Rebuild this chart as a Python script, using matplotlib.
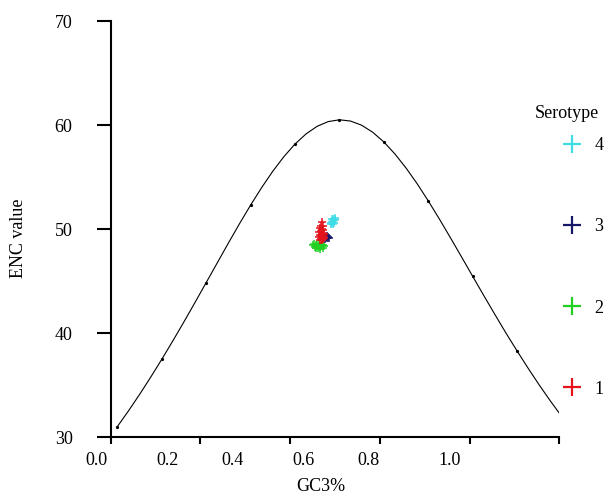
import numpy as np
import matplotlib
matplotlib.use("Agg")
import matplotlib.pyplot as plt
import matplotlib.transforms as mtransforms
from matplotlib.lines import Line2D

plt.rcParams['font.family'] = ['Liberation Serif', 'DejaVu Serif']

# Expected ENC curve (GC3 from 0 to 1 in steps of 0.025)
curve_gc3 = np.linspace(0.0, 1.0, 41)
curve_enc = [31.00, 32.51, 34.09, 35.75, 37.47, 39.25, 41.08, 42.95, 44.85, 46.75,
             48.65, 50.51, 52.30, 53.99, 55.56, 56.96, 58.17, 59.15, 59.88, 60.33,
             60.50, 60.38, 59.98, 59.30, 58.37, 57.21, 55.86, 54.35, 52.70, 50.96,
             49.15, 47.31, 45.45, 43.60, 41.78, 39.99, 38.27, 36.60, 34.99, 33.46,
             32.00]

# Serotype points
s1_gc3 = [0.460, 0.458, 0.462, 0.456, 0.461, 0.464, 0.459, 0.455, 0.463, 0.460, 0.466,
          0.457, 0.462, 0.459, 0.465, 0.455, 0.461, 0.458, 0.463, 0.460, 0.456, 0.466]
s1_enc = [50.67, 50.30, 50.25, 50.05, 50.00, 49.90, 49.80, 49.70, 49.65, 49.55, 49.50,
          49.45, 49.40, 49.30, 49.25, 49.20, 49.15, 49.05, 49.00, 48.95, 48.90, 49.10]
s2_gc3 = [0.440, 0.444, 0.448, 0.451, 0.453, 0.455, 0.457, 0.459, 0.462, 0.464, 0.447,
          0.450, 0.456, 0.460, 0.443, 0.466]
s2_enc = [48.45, 48.30, 48.50, 48.20, 48.40, 48.55, 48.25, 48.35, 48.50, 48.20, 48.15,
          48.60, 48.10, 48.45, 48.55, 48.35]
s3_gc3 = [0.470, 0.473, 0.475, 0.477, 0.472, 0.468]
s3_enc = [49.20, 49.10, 49.25, 49.15, 49.30, 49.05]
s4_gc3 = [0.480, 0.483, 0.486, 0.484, 0.488, 0.490, 0.482, 0.487, 0.489, 0.485]
s4_enc = [50.55, 50.70, 50.80, 50.95, 51.00, 50.85, 50.45, 50.60, 51.10, 50.50]

serotypes = ['1', '2', '3', '4']
colors = {'1': '#e3141c', '2': '#22d022', '3': '#16166b', '4': '#40dce6'}

x_tick_labels = ['0.0', '0.2', '0.4', '0.6', '0.8', '1.0']
x_label_pos = [-0.046, 0.114, 0.260, 0.418, 0.566, 0.749]
y_ticks = [30, 40, 50, 60, 70]

W, H = 611, 498
fig = plt.figure(figsize=(W / 100, H / 100), dpi=100)
ax = fig.add_axes([110.7 / W, 1 - 437 / H, 448.6 / W, 416 / H])

xlim = (-0.015, 0.995)
ax.set_xlim(*xlim)
ax.set_ylim(30, 70)

ax.plot(curve_gc3, curve_enc, color='black', lw=0.8, marker='o', markersize=1.3,
        markevery=4, zorder=2)

data = {'1': (s1_gc3, s1_enc), '2': (s2_gc3, s2_enc),
        '3': (s3_gc3, s3_enc), '4': (s4_gc3, s4_enc)}
for key in ['4', '2', '3', '1']:
    gx, gy = data[key]
    ax.scatter(gx, gy, marker='+', s=30, linewidths=1.1, color=colors[key], zorder=3)

for side in ['top', 'right']:
    ax.spines[side].set_visible(False)
for side in ['left', 'bottom']:
    ax.spines[side].set_linewidth(1.5)

ax.set_yticks(y_ticks)
ax.tick_params(axis='y', direction='out', length=10, width=1.5, pad=17.5, labelsize=13)
ax.set_xticks(np.linspace(xlim[0], xlim[1], 6))
ax.set_xticklabels([])
ax.tick_params(axis='x', direction='out', length=5, width=1.5)

blend = mtransforms.blended_transform_factory(ax.transData, ax.transAxes)
lab_trans = mtransforms.offset_copy(blend, fig=fig, x=0, y=-23, units='dots')
for pos, lab in zip(x_label_pos, x_tick_labels):
    ax.text(pos, 0, lab, transform=lab_trans, ha='center', va='center',
            fontsize=13, clip_on=False)

ax.set_xlabel('GC3%', fontsize=13, va='center')
ax.xaxis.set_label_coords(0.469, -0.120)
ax.set_ylabel('ENC value', fontsize=13, va='center')
ax.yaxis.set_label_coords(-0.2066, 0.478)

handles = [Line2D([], [], ls='', marker='+', markersize=13, mew=1.6, color=colors[k])
           for k in ['4', '3', '2', '1']]
fig.legend(handles, ['4', '3', '2', '1'], loc='center left',
           bbox_to_anchor=(561 / W, 1 - 267.5 / H), bbox_transform=fig.transFigure,
           frameon=False, borderpad=0, borderaxespad=0, handlelength=1.2,
           handletextpad=0.65, labelspacing=3.55, fontsize=13)
fig.text(567 / W, 1 - 113 / H, 'Serotype', ha='center', va='center', fontsize=13)

fig.savefig('out.png', dpi=100)
